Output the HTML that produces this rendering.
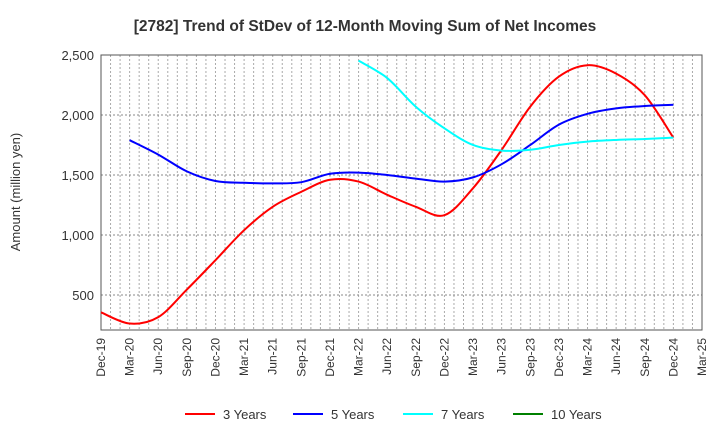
<!DOCTYPE html>
<html><head><meta charset="utf-8"><style>
body{margin:0;background:#fff;font-family:"Liberation Sans",sans-serif;}
svg text{font-family:"Liberation Sans",sans-serif;}
</style></head><body>
<svg id="chart" width="720" height="440" xmlns="http://www.w3.org/2000/svg">
<text x="365" y="31" text-anchor="middle" font-size="15.5" font-weight="bold" fill="#333">[2782]  Trend of StDev of 12-Month Moving Sum of Net Incomes</text>
<text transform="translate(20,192) rotate(-90)" text-anchor="middle" font-size="13" fill="#333">Amount (million yen)</text>
<g id="grid"></g><g id="axes"></g><g id="series"></g><g id="legend"></g>
</svg>
<script>
const xLabels=["Dec-19","Mar-20","Jun-20","Sep-20","Dec-20","Mar-21","Jun-21","Sep-21","Dec-21","Mar-22","Jun-22","Sep-22","Dec-22","Mar-23","Jun-23","Sep-23","Dec-23","Mar-24","Jun-24","Sep-24","Dec-24","Mar-25"];
const yTicks=[500,1000,1500,2000,2500];
const seriesNames=["3 Years","5 Years","7 Years","10 Years"];
const seriesColors=["#ff0000","#0000ff","#00ffff","#008000"];
const s3=[355,262,315,545,790,1040,1235,1360,1460,1445,1335,1235,1165,1390,1710,2070,2320,2415,2345,2165,1811];
const s5=[null,1790,1670,1530,1450,1435,1430,1440,1510,1520,1500,1470,1445,1480,1590,1750,1920,2010,2055,2075,2085];
const s7=[null,null,null,null,null,null,null,null,null,2453,2308,2069,1889,1750,1703,1710,1750,1778,1792,1800,1811];
const s10=[];
const L=101,R=702,T=55,B=330,yMin=208,yMax=2500,nMonths=63;
const NS="http://www.w3.org/2000/svg";
function xm(m){return L+(R-L)*m/nMonths;}
function xq(i){return xm(i*3);}
function y(v){return B-(v-yMin)/(yMax-yMin)*(B-T);}
function mk(t,a,p){const e=document.createElementNS(NS,t);for(const k in a)e.setAttribute(k,a[k]);p.appendChild(e);return e;}
const grid=document.getElementById('grid'),axes=document.getElementById('axes');
for(let m=1;m<nMonths;m++){const l=mk('line',{x1:xm(m),x2:xm(m),y1:T,y2:B,stroke:'#aaa','stroke-dasharray':'2,2','stroke-width':1},grid);

}
yTicks.forEach(v=>{const l=mk('line',{x1:L,x2:R,y1:y(v),y2:y(v),stroke:'#888','stroke-dasharray':'2,2'},grid);


const t=mk('text',{x:L-7,y:y(v)+5,'text-anchor':'end','font-size':13,fill:'#333'},axes);t.textContent=v.toLocaleString('en-US');

});
const fr=mk('rect',{x:L,y:T,width:R-L,height:B-T,fill:'none',stroke:'#555','stroke-width':1},axes);


xLabels.forEach((s,i)=>{const t=mk('text',{transform:`translate(${xq(i)+4},${B+8}) rotate(-90)`,'text-anchor':'end','font-size':12,fill:'#333'},axes);t.textContent=s;

});
function path(data){const p=[];data.forEach((v,i)=>{if(v!=null)p.push([xq(i),y(v)]);});if(p.length<2)return '';
let d=`M${p[0][0]},${p[0][1]}`;for(let i=0;i<p.length-1;i++){const p0=p[i-1]||p[i],p1=p[i],p2=p[i+1],p3=p[i+2]||p2;
const c1=[p1[0]+(p2[0]-p0[0])/6,p1[1]+(p2[1]-p0[1])/6],c2=[p2[0]-(p3[0]-p1[0])/6,p2[1]-(p3[1]-p1[1])/6];
d+=`C${c1[0]},${c1[1]} ${c2[0]},${c2[1]} ${p2[0]},${p2[1]}`;}return d;}
const sg=document.getElementById('series');
[s3,s5,s7,s10].forEach((s,i)=>{const d=path(s);if(!d)return;const e=mk('path',{d:d,fill:'none',stroke:seriesColors[i],'stroke-width':2},sg);

});
const lg=document.getElementById('legend');const lx=[185,293,403,513];
seriesNames.forEach((n,i)=>{const g=mk('g',{},lg);


mk('line',{x1:lx[i],x2:lx[i]+30,y1:414,y2:414,stroke:seriesColors[i],'stroke-width':2},g);
const t=mk('text',{x:lx[i]+38,y:419,'font-size':13,fill:'#333'},g);t.textContent=n;});
</script>
</body></html>
